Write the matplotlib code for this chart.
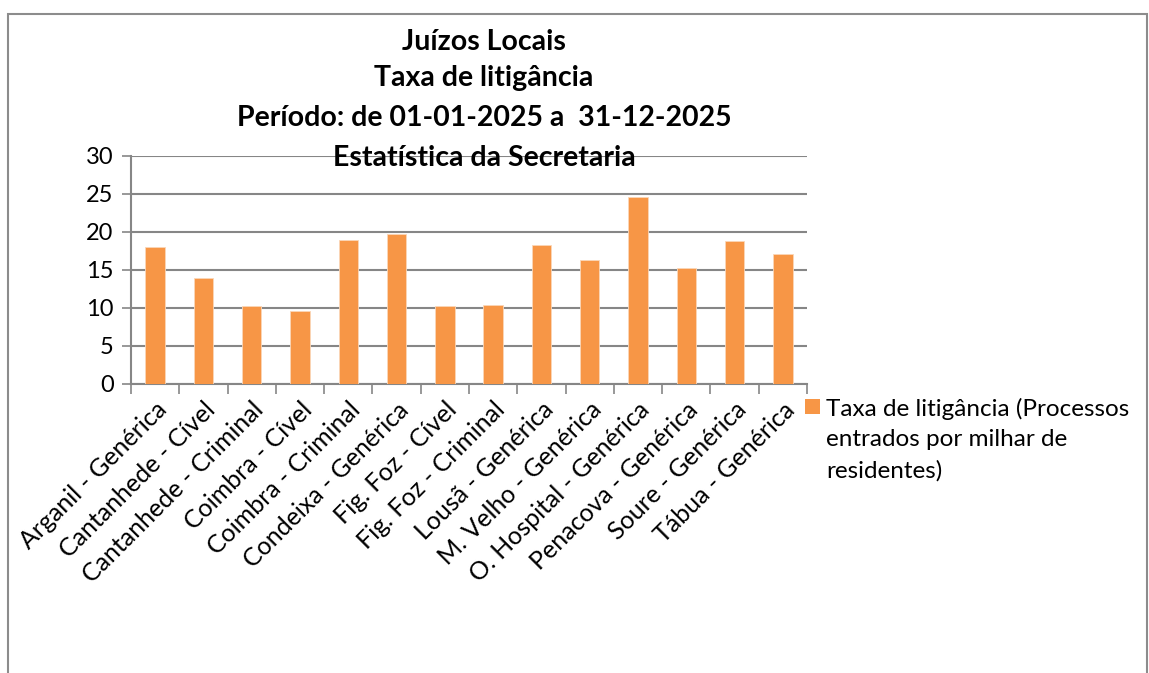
import numpy as np
import matplotlib.pyplot as plt
from matplotlib.patches import Rectangle

plt.rcParams['font.family'] = ['Lato', 'DejaVu Sans']

categories = ["Arganil - Genérica", "Cantanhede - Cível", "Cantanhede - Criminal",
              "Coimbra - Cível", "Coimbra - Criminal", "Condeixa - Genérica",
              "Fig. Foz - Cível", "Fig. Foz - Criminal", "Lousã - Genérica",
              "M. Velho - Genérica", "O. Hospital - Genérica", "Penacova - Genérica",
              "Soure - Genérica", "Tábua - Genérica"]
values = [18.0, 13.9, 10.3, 9.6, 19.0, 19.8, 10.25, 10.4, 18.25, 16.3, 24.65, 15.2, 18.8, 17.1]
series_label = "Taxa de litigância (Processos\nentrados por milhar de\nresidentes)"
title_lines = ["Juízos Locais", "Taxa de litigância",
               "Período: de 01-01-2025 a  31-12-2025", "Estatística da Secretaria"]

orange = '#F79646'
grid_c = '#868686'

fig = plt.figure(figsize=(11.49, 6.73), dpi=100)
# outer chart frame
fig.patches.append(Rectangle((8 / 1149, -0.1), 1139 / 1149, 1.1 - 14 / 673,
                             transform=fig.transFigure, fill=False,
                             edgecolor='#8c8c8c', linewidth=1.5))

ax = fig.add_axes([131 / 1149, 1 - 384 / 673, 676 / 1149, 228 / 673])
x = np.arange(len(categories))
bars = ax.bar(x, values, width=0.4, color=orange, edgecolor='#fbd7b8',
              linewidth=0.6, zorder=3, label=series_label)

ax.set_xlim(-0.5, len(categories) - 0.5)
ax.set_ylim(0, 30)
ax.set_yticks(range(0, 31, 5))
ax.yaxis.grid(True, color=grid_c, linewidth=1.5, zorder=0)
ax.tick_params(axis='y', length=6.5, width=1.2, color=grid_c, labelsize=17, pad=6)
for s in ['top', 'right']:
    ax.spines[s].set_visible(False)
for s in ['left', 'bottom']:
    ax.spines[s].set_color(grid_c)
    ax.spines[s].set_linewidth(1.5)

ax.set_xticks(x)
ax.set_xticklabels(categories, rotation=45, ha='right', rotation_mode='anchor',
                   fontsize=18)
ax.tick_params(axis='x', which='major', length=0, pad=10)
ax.set_xticks(np.arange(-0.5, len(categories), 1), minor=True)
ax.tick_params(axis='x', which='minor', length=7, width=1.2, color=grid_c)

ys = [42, 78, 118, 158]
for t, yy in zip(title_lines, ys):
    fig.text(484 / 1149, 1 - yy / 673, t, ha='center', va='center',
             fontsize=20.5, fontweight='bold', zorder=5)

# legend: swatch next to the first line of the wrapped label
fig.patches.append(Rectangle((805 / 1149, 1 - 414 / 673), 15 / 1149, 15 / 673,
                             transform=fig.transFigure, facecolor=bars[0].get_facecolor(),
                             edgecolor='none'))
fig.text(826 / 1149, 1 - 398 / 673, series_label, ha='left', va='top',
         fontsize=17.5, linespacing=1.55)

fig.savefig('out.png', dpi=100)
